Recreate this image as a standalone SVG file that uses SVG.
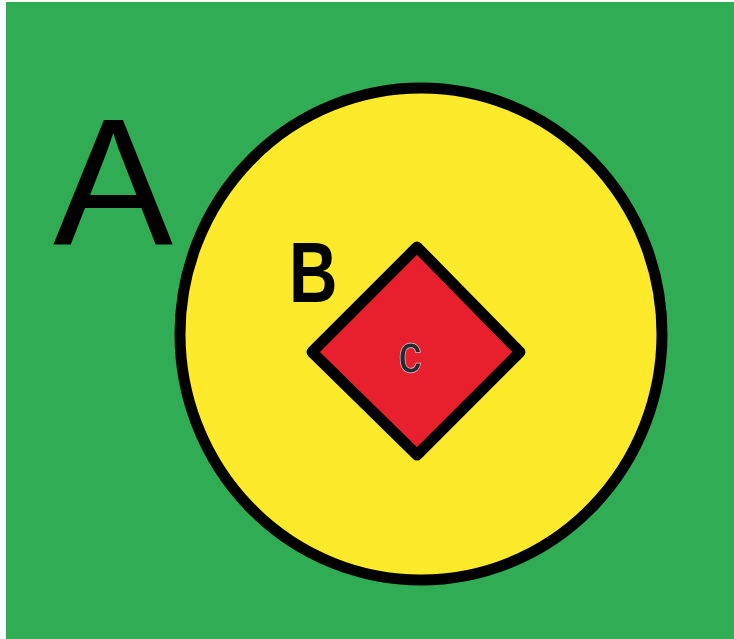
<svg xmlns="http://www.w3.org/2000/svg" width="734" height="639" viewBox="0 0 734 639">
<style>
.lbl{font-family:"Liberation Sans",Arial,sans-serif;fill:#000}
.shape{stroke:#000;stroke-width:11;stroke-linejoin:round}
</style>
<rect x="0" y="0" width="734" height="639" fill="#ffffff"/>
<g id="A">
<rect x="6" y="2" width="728" height="637" fill="#30ad54"/>
<text class="lbl" x="53" y="244" font-size="180">A</text>
</g>
<g id="B">
<ellipse class="shape" cx="421" cy="334" rx="241" ry="246" fill="#fcea2b"/>
<text class="lbl" transform="translate(289 302) scale(0.78 1)" x="0" y="0" font-size="86" font-weight="bold">B</text>
</g>
<g id="C">
<polygon class="shape" points="417,247 520,352 417,455 312,352" fill="#e8202e"/>
<text class="lbl" transform="translate(410 372) scale(0.85 1)" x="0" y="0" font-size="54" text-anchor="middle" style="fill:#2a2a2a;stroke:#d9c9e3;stroke-width:1.5;paint-order:stroke">c</text>
</g>
<g id="connectors"/>
</svg>
